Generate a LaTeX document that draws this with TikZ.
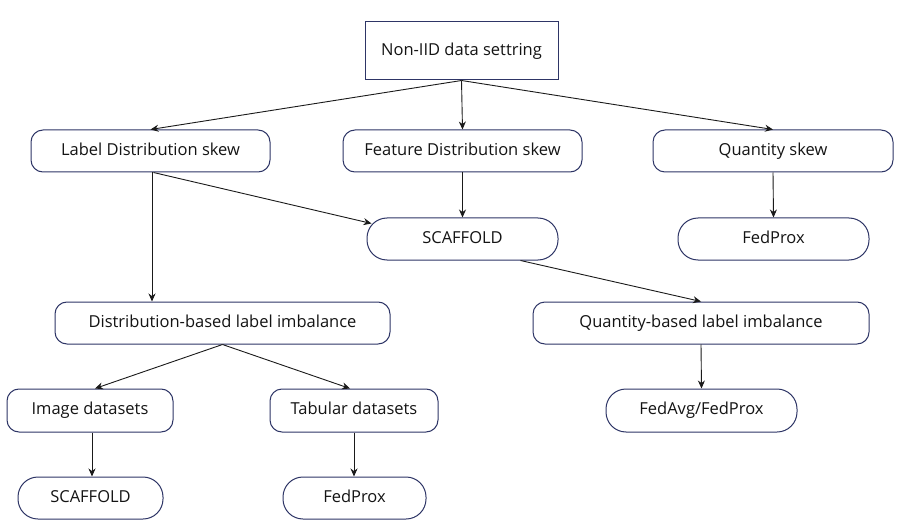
\documentclass[tikz,border=0pt]{standalone}
\usepackage{fontspec}
\setmainfont{Open Sans}
\usetikzlibrary{arrows.meta}
\definecolor{boxline}{HTML}{2E3566}
\definecolor{arrowc}{HTML}{1A1A1A}
\begin{document}
\begin{tikzpicture}[x=1pt,y=-1pt,
  every node/.style={font=\fontsize{16.5}{19}\selectfont, text=black!92, text height=12pt, text depth=3.5pt},
  rootbox/.style={draw=boxline, line width=1pt, minimum width=193pt, minimum height=58pt, inner sep=0pt},
  roundbox/.style={draw=boxline, line width=1pt, rounded corners=12pt, minimum height=42pt, inner sep=0pt},
  pillbox/.style={draw=boxline, line width=1pt, rounded corners=20pt, minimum height=42pt, inner sep=0pt},
  conn/.style={draw=arrowc, line width=0.9pt, -{Stealth[length=8pt,width=7pt]}}]
\useasboundingbox (0,0) rectangle (901,521);
\fill[white] (0,0) rectangle (901,521);
\node[rootbox] (root) at (461.5,51) {Non-IID data settring};
\node[roundbox, minimum width=239pt] (lds) at (150.5,151) {Label Distribution skew};
\node[roundbox, minimum width=239pt] (fds) at (462.5,151) {Feature Distribution skew};
\node[roundbox, minimum width=240pt] (qs) at (773,151) {Quantity skew};
\node[pillbox, minimum width=191pt] (sc1) at (462.5,239) {SCAFFOLD};
\node[pillbox, minimum width=191pt] (fp1) at (773.5,239) {FedProx};
\node[roundbox, minimum width=335pt] (dbl) at (222.5,323) {Distribution-based label imbalance};
\node[roundbox, minimum width=336pt] (qbl) at (701,323) {Quantity-based label imbalance};
\node[roundbox, minimum width=166pt, minimum height=43pt] (img) at (90,410.5) {Image datasets};
\node[roundbox, minimum width=168pt, minimum height=43pt] (tab) at (354,410.5) {Tabular datasets};
\node[pillbox, minimum width=191pt, minimum height=43pt] (fa) at (701.5,410.5) {FedAvg/FedProx};
\node[pillbox, minimum width=145pt] (sc2) at (90.5,498) {SCAFFOLD};
\node[pillbox, minimum width=143pt] (fp2) at (354.5,498) {FedProx};
\draw[conn] (root.south) -- (lds.north);
\draw[conn] (root.south) -- (fds.north);
\draw[conn] (root.south) -- (qs.north);
\draw[conn] ([xshift=1.5pt]lds.south) -- ([xshift=1.5pt]lds.south |- dbl.north);
\draw[conn] ([xshift=3pt]lds.south) -- ([xshift=5pt,yshift=-6pt]sc1.north west);
\draw[conn] (fds.south) -- (sc1.north);
\draw[conn] ([xshift=58pt]sc1.south) -- (qbl.north);
\draw[conn] (qs.south) -- (fp1.north);
\draw[conn] (dbl.south) -- ([xshift=5pt]img.north);
\draw[conn] (dbl.south) -- ([xshift=-4pt]tab.north);
\draw[conn] ([xshift=2pt]img.south) -- ([xshift=2pt]img.south |- sc2.north);
\draw[conn] (tab.south) -- (tab.south |- fp2.north);
\draw[conn] (qbl.south) -- (fa.north);
\end{tikzpicture}
\end{document}
